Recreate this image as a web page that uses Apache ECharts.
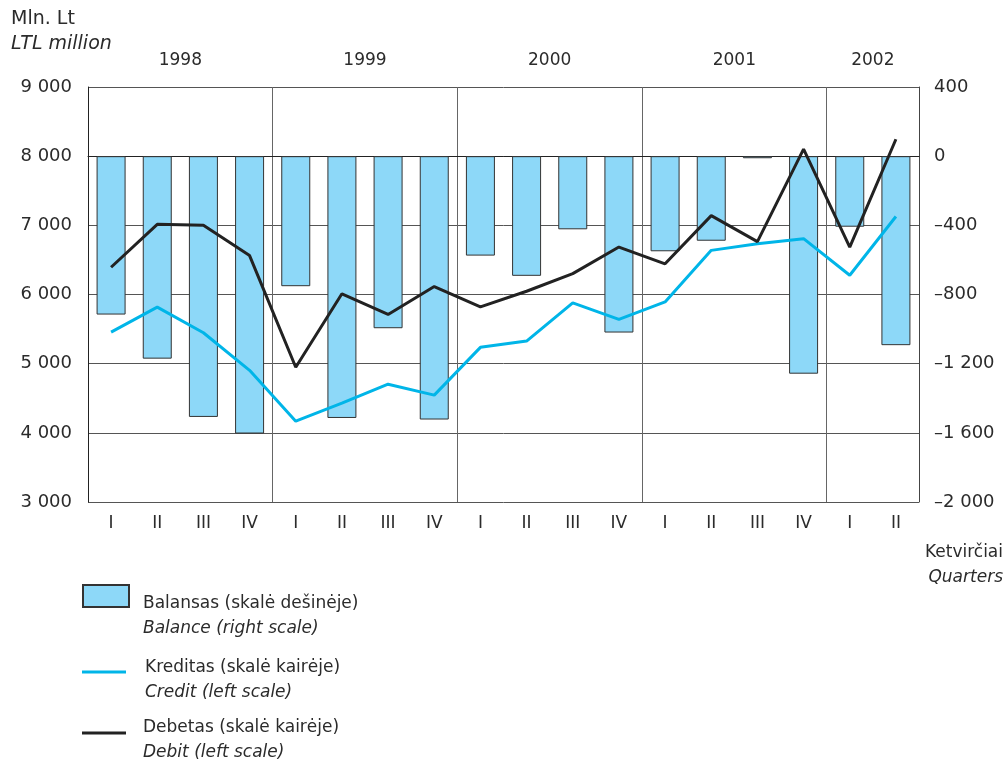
<!DOCTYPE html>
<html lang="lt">
<head>
<meta charset="utf-8">
<title>Balansas, kreditas, debetas</title>
<script src="https://cdn.jsdelivr.net/npm/echarts@6/dist/echarts.min.js"></script>
<style>
    html, body {margin: 0; padding: 0; background: #fff;}
    #main {width: 1007px; height: 762px;}
</style>
</head>
<body>
<div id="main"></div>
<script>
// quarters 1998 I .. 2002 II
var quarters = ['I', 'II', 'III', 'IV', 'I', 'II', 'III', 'IV', 'I', 'II', 'III', 'IV',
    'I', 'II', 'III', 'IV', 'I', 'II'];
var yearNames = ['1998', '1999', '2000', '2001', '2002'];
var yearPos = [2, 6, 10, 14, 17]; // year label position on the quarter scale
var balance = [-916, -1171, -1508, -1604, -752, -1514, -995, -1523, -575, -692, -423, -1020,
    -550, -489, -12, -1258, -408, -1093];
var credit = [5456, 5817, 5447, 4904, 4169, 4429, 4703, 4545, 5236, 5327, 5879, 5640,
    5893, 6638, 6735, 6807, 6278, 7128];
var debit = [6394, 7014, 7000, 6563, 4948, 6010, 5712, 6115, 5821, 6047, 6302, 6686,
    6444, 7140, 6765, 8101, 6686, 8245];
var leftTicks = {min: 3000, max: 9000, step: 1000};
var rightTicks = {min: -2000, max: 400, step: 400};

var FONT = '"DejaVu Sans", sans-serif';
var TXT = '#2b2b2b';

// 9 000, –1 200
function fmt(v) {
    var s = String(Math.abs(v));
    if (s.length > 3) s = s.slice(0, s.length - 3) + ' ' + s.slice(-3);
    return (v < 0 ? '\u2013' : '') + s;
}

var legendText = {
    'Balansas': ['Balansas (skalė dešinėje)', 'Balance (right scale)'],
    'Kreditas': ['Kreditas (skalė kairėje)', 'Credit (left scale)'],
    'Debetas': ['Debetas (skalė kairėje)', 'Debit (left scale)']
};
var rich = {
    a: {fontSize: 17, fontFamily: FONT, color: TXT, lineHeight: 25},
    b: {fontSize: 17, fontFamily: FONT, color: TXT, lineHeight: 25, fontStyle: 'italic'}
};
function legendItem(name, top, iw, ih, pad) {
    return {
        data: [{name: name, icon: 'rect'}], orient: 'vertical', left: 82, top: top, padding: 0,
        itemWidth: iw, itemHeight: ih, selectedMode: false,
        formatter: function (n) {
            return '{a|' + legendText[n][0] + '}\n{b|' + legendText[n][1] + '}';
        },
        textStyle: {padding: pad, rich: rich}
    };
}

var myChart = echarts.init(document.getElementById('main'));

var option = {
    animation: false,
    backgroundColor: '#fff',
    title: [
        {
            text: '{a|Mln. Lt}\n{b|LTL million}',
            left: 11, top: 7, padding: 0,
            textStyle: {fontWeight: 'normal', rich: {
                a: {fontSize: 19, fontFamily: FONT, color: TXT, lineHeight: 25, fontWeight: 'normal'},
                b: {fontSize: 19, fontFamily: FONT, color: TXT, lineHeight: 25, fontWeight: 'normal', fontStyle: 'italic'}
            }}
        },
        {
            text: '{a|Ketvirčiai}\n{b|Quarters}',
            right: 4, top: 540, padding: 0,
            textStyle: {fontWeight: 'normal', rich: {
                a: {fontSize: 17, fontFamily: FONT, color: TXT, lineHeight: 25, fontWeight: 'normal', align: 'right'},
                b: {fontSize: 17, fontFamily: FONT, color: TXT, lineHeight: 25, fontWeight: 'normal', fontStyle: 'italic', align: 'right'}
            }}
        }
    ],
    legend: [
        legendItem('Balansas', 584, 46, 22, [41, 0, 0, 9]),
        legendItem('Kreditas', 659, 44, 3, [16, 0, 0, 14]),
        legendItem('Debetas', 719, 44, 3, [14, 0, 0, 12])
    ],
    grid: {left: 88, right: 88, top: 87, bottom: 260},
    xAxis: [
        {
            type: 'category',
            data: quarters,
            position: 'bottom',
            axisLine: {show: true, lineStyle: {color: '#222', width: 1}},
            axisTick: {show: false},
            axisLabel: {color: TXT, fontSize: 17, fontFamily: FONT, margin: 13},
            splitLine: {
                show: true,
                interval: function (index) { return index > 0 && index % 4 === 0; },
                lineStyle: {color: '#666', width: 1}
            }
        },
        {
            type: 'value',
            position: 'top',
            min: 0, max: 18, interval: 1,
            axisLine: {show: false},
            axisTick: {show: false},
            splitLine: {show: false},
            axisLabel: {
                color: TXT, fontSize: 17, fontFamily: FONT, margin: 18,
                showMinLabel: true, showMaxLabel: true,
                formatter: function (v) {
                    var i = yearPos.indexOf(v);
                    return i >= 0 ? yearNames[i] : '';
                }
            }
        }
    ],
    yAxis: [
        {
            type: 'value',
            position: 'left',
            min: leftTicks.min, max: leftTicks.max, interval: leftTicks.step,
            axisLine: {show: true, lineStyle: {color: '#222', width: 1}},
            axisTick: {show: false},
            axisLabel: {color: TXT, fontSize: 18, fontFamily: FONT, margin: 16, formatter: fmt},
            splitLine: {show: true, lineStyle: {color: '#555', width: 1}}
        },
        {
            type: 'value',
            position: 'right',
            min: rightTicks.min, max: rightTicks.max, interval: rightTicks.step,
            axisLine: {show: true, lineStyle: {color: '#444', width: 1}},
            axisTick: {show: false},
            axisLabel: {color: TXT, fontSize: 18, fontFamily: FONT, margin: 15, formatter: fmt},
            splitLine: {show: false}
        }
    ],
    series: [
        {
            name: 'Balansas',
            type: 'bar',
            xAxisIndex: 0, yAxisIndex: 1,
            barWidth: 29,
            itemStyle: {color: '#8dd8f8', borderColor: '#333', borderWidth: 1},
            data: balance
        },
        {
            name: 'Kreditas',
            type: 'line',
            xAxisIndex: 0, yAxisIndex: 0,
            symbol: 'none',
            lineStyle: {color: '#00b5e8', width: 3},
            itemStyle: {color: '#00b5e8'},
            data: credit
        },
        {
            name: 'Debetas',
            type: 'line',
            xAxisIndex: 0, yAxisIndex: 0,
            symbol: 'none',
            lineStyle: {color: '#222', width: 3},
            itemStyle: {color: '#222'},
            data: debit
        }
    ]
};

myChart.setOption(option);
</script>
</body>
</html>
